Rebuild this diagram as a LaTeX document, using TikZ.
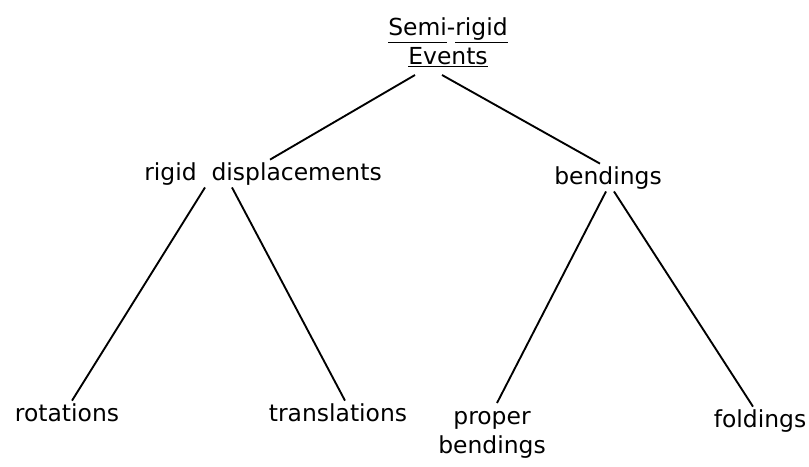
\documentclass[tikz,border=0pt]{standalone}
\usepackage{fontspec}
\setmainfont{DejaVu Sans}
\usetikzlibrary{calc,positioning}
\tikzset{
    tree label/.style={
        inner sep=2pt,
        font=\fontsize{20}{25}\selectfont
    },
    tree edge/.style={
        draw,line width=1.6pt
    },
}
\begin{document}
\begin{tikzpicture}[x=0.03cm,y=-0.03cm]
    \useasboundingbox (0,0) rectangle (809,466);
    \node[tree label,align=center,anchor=south] (events) at (448,70) {\underline{\vphantom{g}Semi}-\underline{rigid}\\\underline{Events}};
    \node[tree label,anchor=base] (rigid) at (263,180) {rigid\ \ displacements};
    \node[tree label,anchor=base] (bend) at (608,184) {bendings};
    \node[tree label,anchor=base] (rot) at (67,421) {rotations};
    \node[tree label,anchor=base] (trans) at (338,421) {translations};
    \node[tree label,align=center,anchor=north] (proper) at (492,409) {proper\\bendings};
    \node[tree label,anchor=base] (fold) at (760,427) {foldings};
    \draw[tree edge] ($(events.south)+(-33,5)$) -- ($(rigid.north)+(7,0)$);
    \draw[tree edge] ($(events.south)+(-6,5)$) -- ($(bend.north)+(-8,0)$);
    \draw[tree edge] ($(rigid.south)+(-58,0)$) -- ($(rot.north)+(5,0)$);
    \draw[tree edge] ($(rigid.south)+(-31,0)$) -- ($(trans.north)+(7,0)$);
    \draw[tree edge] ($(bend.south)+(-2,0)$) -- ($(proper.north)+(5,-6)$);
    \draw[tree edge] ($(bend.south)+(6,0)$) -- ($(fold.north)+(-7,0)$);
\end{tikzpicture}
\end{document}
